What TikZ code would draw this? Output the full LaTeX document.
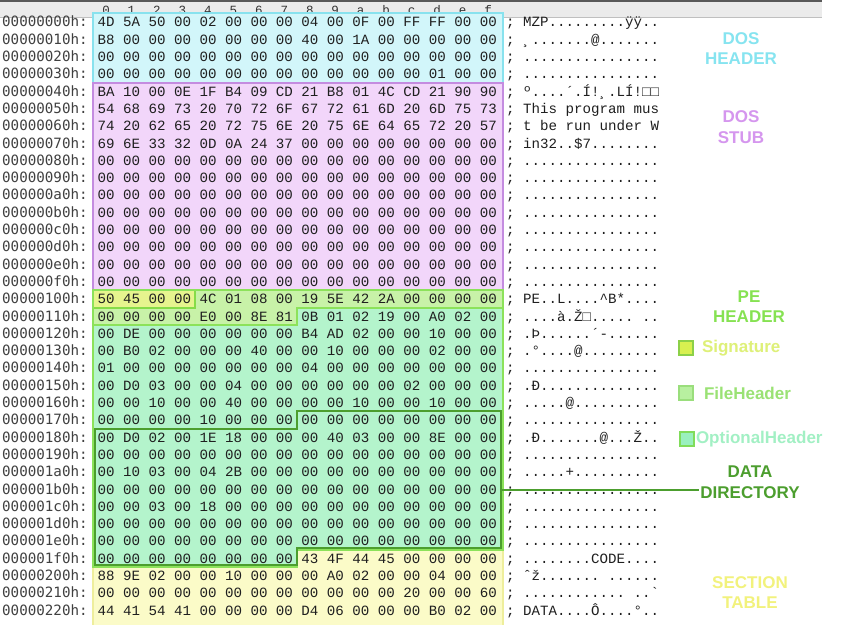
\documentclass[tikz,border=0pt]{standalone}
\usepackage{fontspec}
\setmainfont{Liberation Sans}
\newfontfamily\hexfont{Liberation Mono}[WordSpace={1,0,0}]
\newfontfamily\addrfont{DejaVu Sans Mono}[WordSpace={1,0,0}]
\usetikzlibrary{positioning,calc}
\definecolor{dosfill}{HTML}{D2F6FA}
\definecolor{dosline}{HTML}{88E2EE}
\definecolor{dostext}{HTML}{86E4F0}
\definecolor{stubfill}{HTML}{F2D6FA}
\definecolor{stubline}{HTML}{C48CE0}
\definecolor{stubtext}{HTML}{D596EE}
\definecolor{peline}{HTML}{8CE25A}
\definecolor{petext}{HTML}{86E252}
\definecolor{sigfill}{HTML}{E6F48E}
\definecolor{sigline}{HTML}{86DC48}
\definecolor{fhdrfill}{HTML}{C8F2A8}
\definecolor{optfill}{HTML}{B4F4CC}
\definecolor{ddline}{HTML}{4C9E2E}
\definecolor{secfill}{HTML}{FBFBC8}
\definecolor{secline}{HTML}{EEEE9C}
\definecolor{sectext}{HTML}{F2F27C}
\definecolor{sigsq}{HTML}{D8F050}
\definecolor{sigsqline}{HTML}{8CD048}
\definecolor{sigtxt}{HTML}{DEF078}
\definecolor{fhsq}{HTML}{B8F0A0}
\definecolor{fhsqline}{HTML}{9ADE7C}
\definecolor{fhtxt}{HTML}{9AE274}
\definecolor{ohsq}{HTML}{9AF0BE}
\definecolor{ohsqline}{HTML}{80DC5A}
\definecolor{ohtxt}{HTML}{A2F0C4}

\begin{document}
\begin{tikzpicture}
    [x=1pt,y=-1pt,
      hexrow/.style={anchor=base west,inner sep=0,text=black!88,
          font=\hexfont\fontsize{14.15}{17}\selectfont\frenchspacing},
      addr/.style={anchor=base west,inner sep=0,text=black!75,
          font=\addrfont\fontsize{14.2}{17}\selectfont},
      colhead/.style={anchor=base,inner sep=0,text=black!80,
          font=\hexfont\fontsize{12.5}{14}\selectfont},
      partname/.style={inner sep=0,align=center,font=\bfseries\fontsize{17}{20.5}\selectfont},
      legendtext/.style={inner sep=0,font=\bfseries\fontsize{17}{20}\selectfont},
      swatch/.style={draw,line width=1.6pt,minimum size=14pt,inner sep=0},
      region/.style={line width=2pt,line join=miter},
    ]
    \useasboundingbox (0,0) rectangle (842,624);
    \fill[white] (0,0) rectangle (842,624);
    \fill[black!8] (0,0) rectangle (822,17);
    \draw[black!65,line width=1.5pt] (0,0.75) -- (822,0.75);
    \draw[black!25] (0,17) -- (822,17);
    \foreach \c [count=\i from 0] in {0,1,2,3,4,5,6,7,8,9,a,b,c,d,e,f}
      \node[colhead] (col\c) at ({106+25.47*\i},14) {\c};

    \begin{scope}[shift={(93.3,13.4)},x=25.47pt,y=-17.3pt]
      \filldraw[region,fill=dosfill,draw=dosline] (0,0) rectangle (16.1,4);
      \filldraw[region,fill=stubfill,draw=stubline] (0,4) rectangle (16.1,16);
      \filldraw[region,fill=secfill,draw=secline] (8,31) -- (16.1,31) -- (16.1,37)
        -- (0,37) -- (0,32) -- (8,32) -- cycle;
      \filldraw[region,fill=optfill,draw=peline!80] (8,17) -- (16.1,17) -- (16.1,31)
        -- (8,31) -- (8,32) -- (0,32) -- (0,18) -- (8,18) -- cycle;
      \filldraw[region,fill=fhdrfill,draw=peline] (4,16) -- (16.1,16) -- (16.1,17)
        -- (8,17) -- (8,18) -- (0,18) -- (0,17) -- (4,17) -- cycle;
      \filldraw[region,fill=sigfill,draw=sigline] (0,16) rectangle (4,17);
      \draw[region,draw=peline] (0,16) -- (16.1,16) -- (16.1,31) -- (8,31)
        -- (8,32) -- (0,32) -- cycle;
      \draw[region,draw=ddline,line width=2.2pt] (8,23) -- (16,23) -- (16,30.92)
        -- (8,30.92) -- (8,31.9) -- (0.08,31.9) -- (0.08,24) -- (8,24) -- cycle;
      \coordinate (ddir) at (16,27.55);
    \end{scope}

    \foreach \addr/\bytes/\chars [count=\r from 0] in {
        00000000h/4D 5A 50 00 02 00 00 00 04 00 0F 00 FF FF 00 00/{MZP.........ÿÿ..},
        00000010h/B8 00 00 00 00 00 00 00 40 00 1A 00 00 00 00 00/{¸.......@.......},
        00000020h/00 00 00 00 00 00 00 00 00 00 00 00 00 00 00 00/{................},
        00000030h/00 00 00 00 00 00 00 00 00 00 00 00 00 01 00 00/{................},
        00000040h/BA 10 00 0E 1F B4 09 CD 21 B8 01 4C CD 21 90 90/{º....´.Í!¸.LÍ!□□},
        00000050h/54 68 69 73 20 70 72 6F 67 72 61 6D 20 6D 75 73/{This program mus},
        00000060h/74 20 62 65 20 72 75 6E 20 75 6E 64 65 72 20 57/{t be run under W},
        00000070h/69 6E 33 32 0D 0A 24 37 00 00 00 00 00 00 00 00/{in32..\$7........},
        00000080h/00 00 00 00 00 00 00 00 00 00 00 00 00 00 00 00/{................},
        00000090h/00 00 00 00 00 00 00 00 00 00 00 00 00 00 00 00/{................},
        000000a0h/00 00 00 00 00 00 00 00 00 00 00 00 00 00 00 00/{................},
        000000b0h/00 00 00 00 00 00 00 00 00 00 00 00 00 00 00 00/{................},
        000000c0h/00 00 00 00 00 00 00 00 00 00 00 00 00 00 00 00/{................},
        000000d0h/00 00 00 00 00 00 00 00 00 00 00 00 00 00 00 00/{................},
        000000e0h/00 00 00 00 00 00 00 00 00 00 00 00 00 00 00 00/{................},
        000000f0h/00 00 00 00 00 00 00 00 00 00 00 00 00 00 00 00/{................},
        00000100h/50 45 00 00 4C 01 08 00 19 5E 42 2A 00 00 00 00/{PE..L....\textasciicircum B*....},
        00000110h/00 00 00 00 E0 00 8E 81 0B 01 02 19 00 A0 02 00/{....à.Ž□..... ..},
        00000120h/00 DE 00 00 00 00 00 00 B4 AD 02 00 00 10 00 00/{.Þ......´-......},
        00000130h/00 B0 02 00 00 00 40 00 00 10 00 00 00 02 00 00/{.°....@.........},
        00000140h/01 00 00 00 00 00 00 00 04 00 00 00 00 00 00 00/{................},
        00000150h/00 D0 03 00 00 04 00 00 00 00 00 00 02 00 00 00/{.Ð..............},
        00000160h/00 00 10 00 00 40 00 00 00 00 10 00 00 10 00 00/{.....@..........},
        00000170h/00 00 00 00 10 00 00 00 00 00 00 00 00 00 00 00/{................},
        00000180h/00 D0 02 00 1E 18 00 00 00 40 03 00 00 8E 00 00/{.Ð.......@...Ž..},
        00000190h/00 00 00 00 00 00 00 00 00 00 00 00 00 00 00 00/{................},
        000001a0h/00 10 03 00 04 2B 00 00 00 00 00 00 00 00 00 00/{.....+..........},
        000001b0h/00 00 00 00 00 00 00 00 00 00 00 00 00 00 00 00/{................},
        000001c0h/00 00 03 00 18 00 00 00 00 00 00 00 00 00 00 00/{................},
        000001d0h/00 00 00 00 00 00 00 00 00 00 00 00 00 00 00 00/{................},
        000001e0h/00 00 00 00 00 00 00 00 00 00 00 00 00 00 00 00/{................},
        000001f0h/00 00 00 00 00 00 00 00 43 4F 44 45 00 00 00 00/{........CODE....},
        00000200h/88 9E 02 00 00 10 00 00 00 A0 02 00 00 04 00 00/{ˆž....... ......},
        00000210h/00 00 00 00 00 00 00 00 00 00 00 00 20 00 00 60/{............ ..\textasciigrave},
        00000220h/44 41 54 41 00 00 00 00 D4 06 00 00 00 B0 02 00/{DATA....Ô....°..}}
    {
      \node[addr] (off\r) at (2,{26.9+17.3*\r}) {\addr:};
      \node[hexrow] (hex\r) at (97.5,{26.9+17.3*\r}) {\bytes};
      \node[hexrow] (asc\r) at (506,{26.9+17.3*\r}) {; \chars};
    }

    \node[partname,text=dostext] (doshdr) at (741,48.5) {DOS\\HEADER};
    \node[partname,text=stubtext] (dosstub) at (741,127) {DOS\\STUB};
    \node[partname,text=petext] (pehdr) at (749,306.5) {PE\\HEADER};
    \node[partname,text=ddline] (ddlabel) at (750,482) {DATA\\DIRECTORY};
    \node[partname,text=sectext] (sectab) at (750,592.5) {SECTION\\TABLE};

    \node[swatch,fill=sigsq,draw=sigsqline] (sig) at (686,348) {};
    \node[legendtext,text=sigtxt,right=8pt of sig] (sigtext) {Signature};
    \node[swatch,fill=fhsq,draw=fhsqline] (fhdr) at (686,393) {};
    \node[legendtext,text=fhtxt,right=10pt of fhdr] (fhdrtext) {FileHeader};
    \node[swatch,fill=ohsq,draw=ohsqline] (ohdr) at (687,439) {};
    \node[legendtext,text=ohtxt,right=1pt of ohdr] (ohdrtext) {OptionalHeader};

    \draw[ddline,line width=2pt] (ddir) -- ($(ddir -| ddlabel.west)+(-1.5,0)$);
  \end{tikzpicture}
\end{document}
